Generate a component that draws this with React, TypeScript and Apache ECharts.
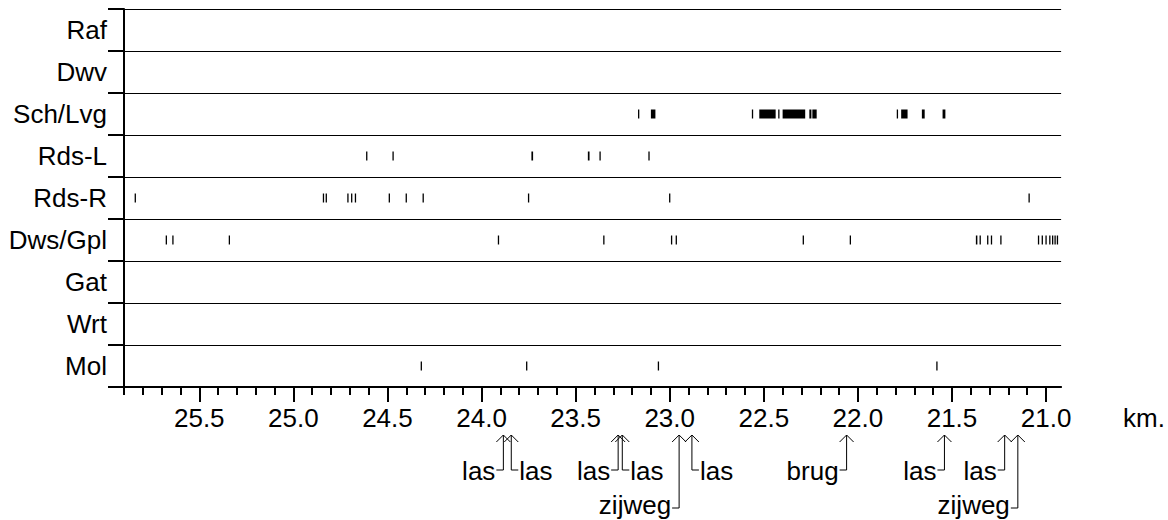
import React, { useEffect, useRef } from 'react';
import * as echarts from 'echarts';

// ---- categories (top to bottom) ----
const rows = ['Raf', 'Dwv', 'Sch/Lvg', 'Rds-L', 'Rds-R', 'Dws/Gpl', 'Gat', 'Wrt', 'Mol'];

// ---- x axis (km, decreasing to the right) ----
const KM_MIN = 20.92;
const KM_MAX = 25.9;
const majorTicks = [21.0, 21.5, 22.0, 22.5, 23.0, 23.5, 24.0, 24.5, 25.0, 25.5];
const minorTicks: number[] = [];
for (let i = 210; i <= 259; i++) {
  if (i % 5 !== 0) minorTicks.push(i / 10);
}
const axisUnit = 'km.';

// ---- observations per row: single km value or [start, end] range ----
type Mark = number | [number, number];
const raf: Mark[] = [];
const dwv: Mark[] = [];
const schLvg: Mark[] = [
  23.165, [23.1, 23.076], 22.56, [22.524, 22.437], 22.42, [22.4, 22.28],
  [22.258, 22.247], [22.242, 22.219], 21.79, [21.77, 21.736], [21.66, 21.645], [21.55, 21.535],
];
const rdsL: Mark[] = [24.61, 24.47, [23.735, 23.726], [23.435, 23.426], 23.37, 23.11];
const rdsR: Mark[] = [
  25.84, 24.84, 24.825, 24.71, 24.69, 24.67, 24.49, 24.4, 24.31, 23.75, 23.0, 21.09,
];
const dwsGpl: Mark[] = [
  25.675, 25.64, 25.34, 23.91, 23.35, 22.99, 22.965, 22.29, 22.04,
  [21.373, 21.365], 21.35, 21.31, 21.29, 21.24,
  21.04, 21.02, 21.0, 20.98, 20.965, 20.952, [20.943, 20.936],
];
const gat: Mark[] = [];
const wrt: Mark[] = [];
const mol: Mark[] = [24.32, 23.76, 23.06, 21.58];
const rowMarks: Mark[][] = [raf, dwv, schLvg, rdsL, rdsR, dwsGpl, gat, wrt, mol];

// ---- annotations below the axis ----
const annKm = [23.884, 23.842, 23.274, 23.252, 22.95, 22.882, 22.06, 21.54, 21.22, 21.15];
const annLabel = ['las', 'las', 'las', 'las', 'zijweg', 'las', 'brug', 'las', 'las', 'zijweg'];
const annSide = [-1, 1, -1, 1, -1, 1, -1, -1, -1, -1];
const annLevel = [1, 1, 1, 1, 2, 1, 1, 1, 1, 2];

const FONT = "'Liberation Sans', Arial, Helvetica, sans-serif";
const FS = 26;

export default function App() {
  const ref = useRef<HTMLDivElement>(null);

  useEffect(() => {
    document.body.style.margin = '0';
    if (!ref.current) return;
    const chart = echarts.init(ref.current, null, { renderer: 'svg' });

    const markData: number[][] = [];
    rowMarks.forEach((list, r) => {
      list.forEach((m) => {
        if (Array.isArray(m)) markData.push([m[0], m[1], r]);
        else markData.push([m, m, r]);
      });
    });

    const annData = annKm.map((k, i) => [k, 8, i]);

    chart.setOption({
      animation: false,
      backgroundColor: '#fff',
      grid: { left: 124, right: 98, top: 9, height: 378, containLabel: false },
      xAxis: [
        {
          type: 'value',
          min: KM_MIN,
          max: KM_MAX,
          inverse: true,
          position: 'bottom',
          name: axisUnit,
          nameLocation: 'start',
          nameGap: 62,
          nameTextStyle: {
            fontSize: FS,
            fontFamily: FONT,
            color: '#000',
            align: 'left',
            verticalAlign: 'top',
            padding: [18, 0, 0, 0],
          },
          axisLine: { show: true, lineStyle: { color: '#000', width: 2 } },
          axisTick: {
            show: true,
            customValues: majorTicks,
            length: 15,
            lineStyle: { color: '#000', width: 2 },
          },
          axisLabel: {
            show: true,
            customValues: majorTicks,
            formatter: (v: number) => v.toFixed(1),
            fontSize: FS,
            fontFamily: FONT,
            color: '#000',
            margin: 18,
          },
          splitLine: { show: false },
        },
        {
          type: 'value',
          min: KM_MIN,
          max: KM_MAX,
          inverse: true,
          position: 'bottom',
          axisLine: { show: false },
          axisTick: {
            show: true,
            customValues: minorTicks,
            length: 8,
            lineStyle: { color: '#000', width: 2 },
          },
          axisLabel: { show: false },
          splitLine: { show: false },
        },
      ],
      yAxis: {
        type: 'category',
        data: rows,
        inverse: true,
        axisLine: { show: true, lineStyle: { color: '#000', width: 2 } },
        axisTick: { show: true, length: 16, lineStyle: { color: '#000', width: 2 } },
        axisLabel: { fontSize: FS, fontFamily: FONT, color: '#000', margin: 17 },
        splitLine: { show: true, lineStyle: { color: '#000', width: 1 } },
      },
      series: [
        {
          type: 'custom',
          name: 'marks',
          xAxisIndex: 0,
          yAxisIndex: 0,
          encode: { x: [0, 1], y: 2 },
          data: markData,
          renderItem: (params: any, api: any) => {
            const p1 = api.coord([api.value(0), api.value(2)]);
            const p2 = api.coord([api.value(1), api.value(2)]);
            let x = Math.min(p1[0], p2[0]);
            let w = Math.abs(p2[0] - p1[0]);
            if (w < 1.3) {
              x = (p1[0] + p2[0]) / 2 - 0.65;
              w = 1.3;
            }
            return {
              type: 'rect',
              shape: { x, y: p1[1] - 4.5, width: w, height: 9 },
              style: { fill: '#000' },
            };
          },
        },
        {
          type: 'custom',
          name: 'annotations',
          xAxisIndex: 0,
          yAxisIndex: 0,
          clip: false,
          encode: { x: 0, y: 1 },
          data: annData,
          renderItem: (params: any, api: any) => {
            const i = api.value(2);
            const x = api.coord([api.value(0), api.value(1)])[0];
            const axisY = params.coordSys.y + params.coordSys.height;
            const tipY = axisY + 48;
            const level2 = annLevel[i] === 2;
            const lineY = axisY + (level2 ? 121 : 83);
            const side = annSide[i];
            return {
              type: 'group',
              children: [
                {
                  type: 'polyline',
                  shape: { points: [[x - 7, tipY + 7], [x, tipY], [x + 7, tipY + 7]] },
                  style: { stroke: '#000', lineWidth: 1, fill: null },
                },
                {
                  type: 'polyline',
                  shape: { points: [[x, tipY], [x, lineY], [x + side * 7, lineY]] },
                  style: { stroke: '#000', lineWidth: 1, fill: null },
                },
                {
                  type: 'text',
                  style: {
                    text: annLabel[i],
                    x: x + side * 8,
                    y: lineY + (level2 ? -3.5 : 1),
                    align: side < 0 ? 'right' : 'left',
                    verticalAlign: 'middle',
                    fontSize: FS,
                    fontFamily: FONT,
                    fill: '#000',
                  },
                },
              ],
            };
          },
        },
      ],
    });

    return () => chart.dispose();
  }, []);

  return <div ref={ref} style={{ width: 1168, height: 520 }} />;
}
